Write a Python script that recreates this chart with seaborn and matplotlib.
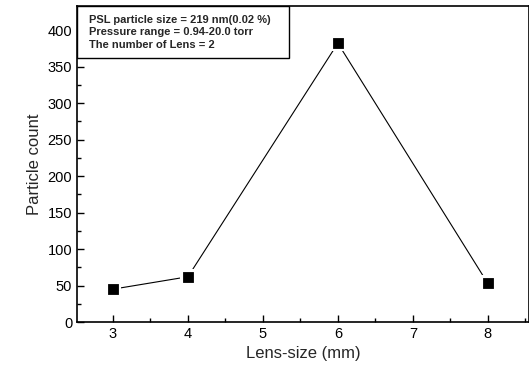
import matplotlib
matplotlib.use("Agg")
import matplotlib.pyplot as plt
import seaborn as sns
import pandas as pd
from matplotlib.patches import Rectangle
from matplotlib.ticker import MultipleLocator

lens_size = [3, 4, 6, 8]
particle_count = [45, 62, 382, 53]
info_lines = [
    "PSL particle size = 219 nm(0.02 %)",
    "Pressure range = 0.94-20.0 torr",
    "The number of Lens = 2",
]

sns.set_style("ticks")
plt.rcParams["font.family"] = ["Liberation Sans", "DejaVu Sans"]

df = pd.DataFrame({"lens": lens_size, "count": particle_count})

fig = plt.figure(figsize=(5.29, 3.72), dpi=100)
ax = fig.add_axes([77 / 529, 50 / 372, 452 / 529, 316 / 372])

# connecting line, then markers with a white halo so the line stops short
sns.lineplot(data=df, x="lens", y="count", ax=ax, color="black", linewidth=0.8)
sns.scatterplot(data=df, x="lens", y="count", ax=ax, marker="s", s=140,
                color="white", edgecolor="none", zorder=3)
sns.scatterplot(data=df, x="lens", y="count", ax=ax, marker="s", s=55,
                color="black", edgecolor="black", zorder=4)

ax.set_xlim(2.52, 8.55)
ax.set_ylim(0, 433)
ax.xaxis.set_major_locator(MultipleLocator(1))
ax.xaxis.set_minor_locator(MultipleLocator(0.5))
ax.yaxis.set_major_locator(MultipleLocator(50))
ax.yaxis.set_minor_locator(MultipleLocator(25))
ax.tick_params(which="both", direction="in", labelsize=10.5, colors="black")
ax.tick_params(which="major", length=5, width=1)
ax.tick_params(which="minor", length=3, width=1)
ax.set_xlabel("Lens-size (mm)", fontsize=12)
ax.set_ylabel("Particle count", fontsize=12)
for s in ax.spines.values():
    s.set_linewidth(1.2)
    s.set_color("black")

# info box in the upper left corner
ax.add_patch(Rectangle((0.0, 0.835), 0.47, 0.165, transform=ax.transAxes,
                       facecolor="white", edgecolor="black", linewidth=1.0,
                       zorder=5))
ax.text(0.027, 0.972, "\n".join(info_lines), transform=ax.transAxes,
        fontsize=8, fontweight="bold", va="top", ha="left", linespacing=1.32,
        zorder=6)

fig.savefig("out.png", dpi=100)
